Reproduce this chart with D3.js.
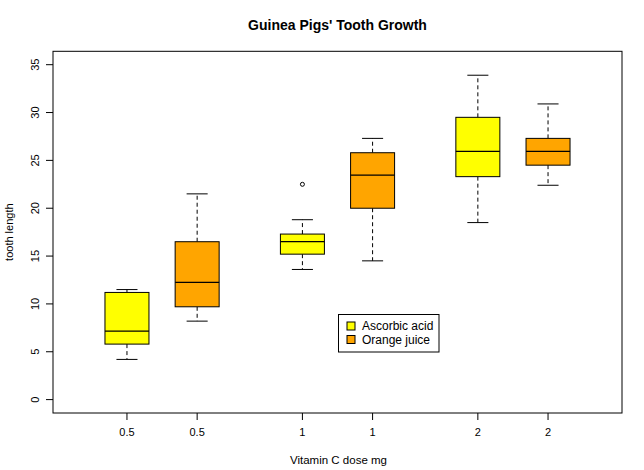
<!DOCTYPE html>
<html><head><meta charset="utf-8">
<script src="https://cdn.jsdelivr.net/npm/d3@7"></script>
<style>body{margin:0;background:#fff}text{font-family:"Liberation Sans",Arial,sans-serif}</style>
</head><body><svg id="c" width="644" height="470"></svg>
<script>
const labels = ["0.5","0.5","1","1","2","2"];
const supp = ["VC","OJ","VC","OJ","VC","OJ"];
const positions = [1,2,3.5,4.5,6,7];
const mins = [4.2,8.2,13.6,14.5,18.5,22.4];
const q1s = [5.8,9.7,15.2,20.0,23.3,24.5];
const medians = [7.15,12.25,16.5,23.45,25.95,25.95];
const q3s = [11.2,16.5,17.3,25.8,29.5,27.3];
const maxs = [11.5,21.5,18.8,27.3,33.9,30.9];
const outliers = [[],[],[22.5],[],[],[]];
const yTicks = [0,5,10,15,20,25,30,35];
const legendLabels = ["Ascorbic acid","Orange juice"];
const colors = {VC:"#FFFF00", OJ:"#FFA500"};

const svg = d3.select("#c");
const L=53,R=622,T=51.3,B=413;
const x = d3.scaleLinear().domain([-0.054,8.054]).range([L,R]);
const y = d3.scaleLinear().domain([-1.4,36.4]).range([B,T]);
const bw = 0.627, sw = 0.3;

const data = labels.map((l,i)=>({l,s:supp[i],p:positions[i],min:mins[i],q1:q1s[i],med:medians[i],q3:q3s[i],max:maxs[i],out:outliers[i]}));

const g = svg.append("g");
data.forEach(d=>{
  const cx = x(d.p), hw = (x(bw)-x(0))/2, sh=(x(sw)-x(0))/2;
  g.append("line").attr("x1",cx).attr("x2",cx).attr("y1",y(d.q3)).attr("y2",y(d.max)).attr("stroke","#000").attr("stroke-dasharray","4,3");
  g.append("line").attr("x1",cx).attr("x2",cx).attr("y1",y(d.q1)).attr("y2",y(d.min)).attr("stroke","#000").attr("stroke-dasharray","4,3");
  g.append("line").attr("x1",cx-sh).attr("x2",cx+sh).attr("y1",y(d.max)).attr("y2",y(d.max)).attr("stroke","#000");
  g.append("line").attr("x1",cx-sh).attr("x2",cx+sh).attr("y1",y(d.min)).attr("y2",y(d.min)).attr("stroke","#000");
  g.append("rect").attr("x",cx-hw).attr("y",y(d.q3)).attr("width",2*hw).attr("height",y(d.q1)-y(d.q3)).attr("fill",colors[d.s]).attr("stroke","#000");
  g.append("line").attr("x1",cx-hw).attr("x2",cx+hw).attr("y1",y(d.med)).attr("y2",y(d.med)).attr("stroke","#000").attr("stroke-width",1.2);
  d.out.forEach(o=>g.append("circle").attr("cx",cx).attr("cy",y(o)).attr("r",2).attr("fill","none").attr("stroke","#000"));
});

svg.append("rect").attr("x",L).attr("y",T).attr("width",R-L).attr("height",B-T).attr("fill","none").attr("stroke","#000");

const ya = svg.append("g");
yTicks.forEach(t=>{
  ya.append("line").attr("x1",L-7).attr("x2",L).attr("y1",y(t)).attr("y2",y(t)).attr("stroke","#000");
  ya.append("text").attr("transform",`translate(39,${y(t)}) rotate(-90)`).attr("text-anchor","middle").attr("font-size",11).text(t);
});
data.forEach(d=>{
  svg.append("line").attr("x1",x(d.p)).attr("x2",x(d.p)).attr("y1",B).attr("y2",B+7).attr("stroke","#000");
  svg.append("text").attr("x",x(d.p)).attr("y",436).attr("text-anchor","middle").attr("font-size",11).text(d.l);
});

svg.append("text").attr("x",(L+R)/2).attr("y",30).attr("text-anchor","middle").attr("font-size",14).attr("font-weight","bold").text("Guinea Pigs' Tooth Growth");
svg.append("text").attr("x",(L+R)/2+1).attr("y",464).attr("text-anchor","middle").attr("font-size",11.5).text("Vitamin C dose mg");
svg.append("text").attr("transform",`translate(13,${(T+B)/2}) rotate(-90)`).attr("text-anchor","middle").attr("font-size",11).text("tooth length");

const lg = svg.append("g");
lg.append("rect").attr("x",338.5).attr("y",314.5).attr("width",100.5).attr("height",37.5).attr("fill","#fff").attr("stroke","#000");
legendLabels.forEach((t,i)=>{
  const cy = 326 + i*13.5;
  lg.append("rect").attr("x",347).attr("y",cy-4).attr("width",8).attr("height",8).attr("fill",colors[["VC","OJ"][i]]).attr("stroke","#000");
  lg.append("text").attr("x",362).attr("y",cy+4).attr("font-size",12).text(t);
});
</script></body></html>
